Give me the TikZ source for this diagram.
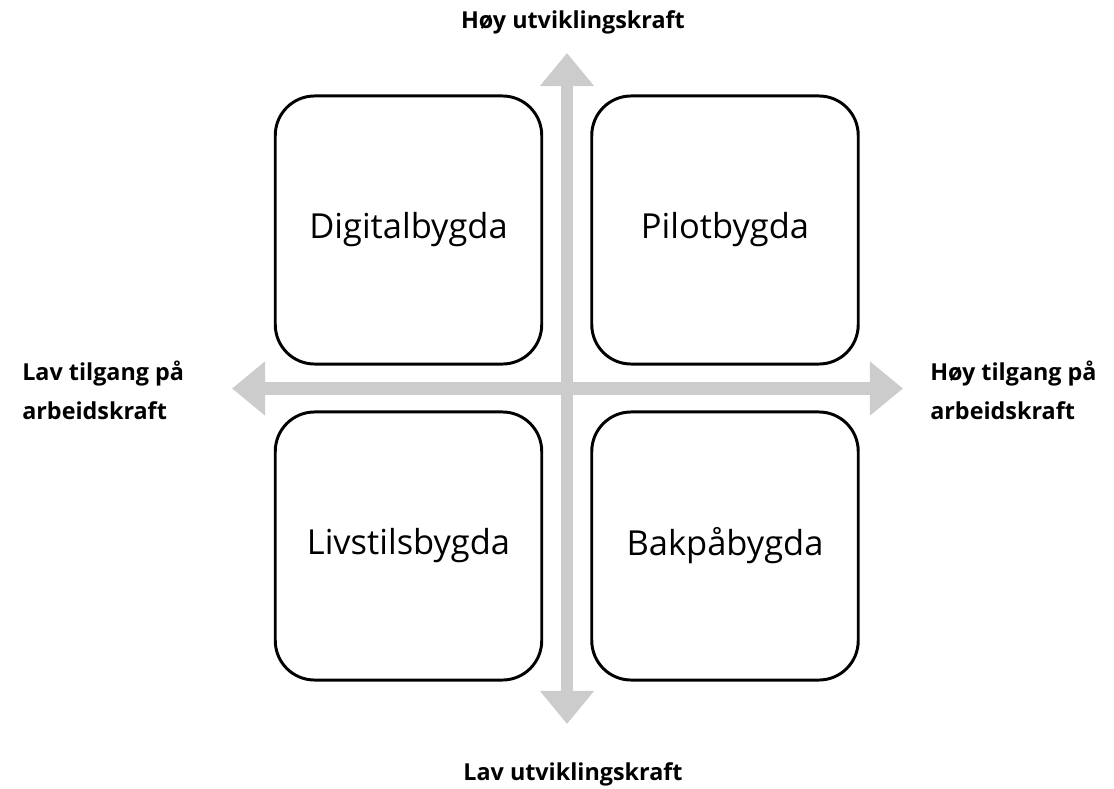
\documentclass[tikz,border=0pt]{standalone}
\usepackage{fontspec}
\setmainfont{Open Sans}
\usetikzlibrary{arrows.meta}
\definecolor{axisgray}{RGB}{204,204,204}

\begin{document}
\begin{tikzpicture}[x=0.025cm, y=-0.025cm,
    quad/.style={draw, line width=2.1pt, rounded corners=28pt,
        minimum width=6.66cm, minimum height=6.7cm, inner sep=0pt,
        font=\fontsize{24.5}{28}\selectfont},
    axis/.style={draw=axisgray, line width=9.2pt,
        {Triangle[width=37pt,length=23.5pt]}-{Triangle[width=37pt,length=23.5pt]}},
    lbl/.style={inner sep=0pt, font=\bfseries\fontsize{16.6}{27.5}\selectfont}]
                \useasboundingbox (0,0) rectangle (1114,789);

                % Axes
                \coordinate (top) at (567,53);
                \coordinate (bottom) at (567,724);
                \coordinate (left) at (232,388.5);
                \coordinate (right) at (903,388.5);
                \draw[axis] (left)--(right);
                \draw[axis] (top)--(bottom);

                % Quadrants
                \node[quad] (digital) at (408.5,230) {Digitalbygda};
                \node[quad] (pilot) at (725,230) {Pilotbygda};
                \node[quad] (livstil) at (408.5,546) {Livstilsbygda};
                \node[quad] (bakpaa) at (725,546) {Bakpåbygda};

                % Labels
                \node[lbl, anchor=base] (hoyutv) at (573,29) {Høy utviklingskraft};
                \node[lbl, anchor=base] (lavutv) at (573,780) {Lav utviklingskraft};
                \node[lbl, align=left, anchor=north west] (lavtil) at (22,361) {Lav tilgang på\\arbeidskraft};
                \node[lbl, align=left, anchor=north west] (hoytil) at (930,361) {Høy tilgang på\\arbeidskraft};
            \end{tikzpicture}
\end{document}
